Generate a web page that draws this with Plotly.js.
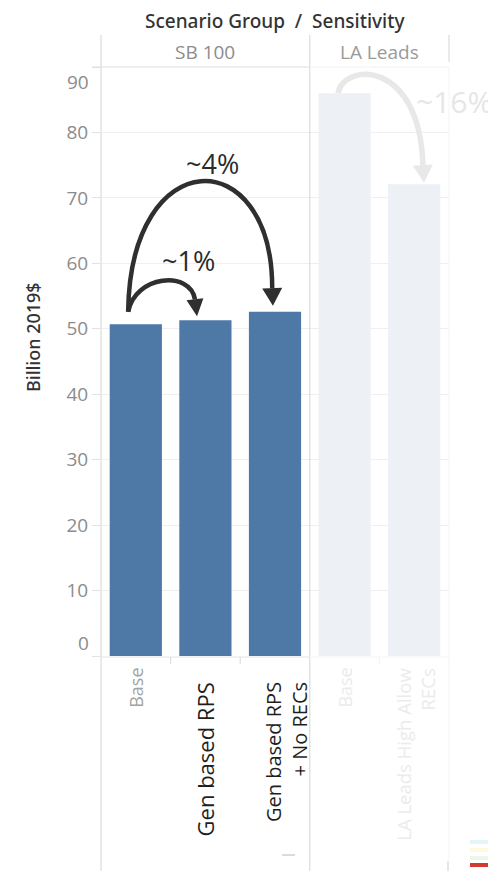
<!DOCTYPE html>
<html>
<head>
<meta charset="utf-8">
<script src="https://cdn.plot.ly/plotly-3.0.1.min.js"></script>
<style>
  html, body { margin: 0; padding: 0; background: #fff; }
  #chart { width: 488px; height: 871px; }
</style>
</head>
<body>
<div id="chart"></div>
<script>
// ---- data ----
const groups = ['SB 100', 'SB 100', 'SB 100', 'LA Leads', 'LA Leads'];
const sensitivities = ['Base', 'Gen based RPS', 'Gen based RPS<br>+ No RECs', 'Base', 'LA Leads High Allow<br>RECs'];
const costs = [50.7, 51.3, 52.6, 86.0, 72.1];          // Billion 2019$
const yTicks = [0, 10, 20, 30, 40, 50, 60, 70, 80, 90];
const changeLabels = ['~1%', '~4%', '~16%'];
const groupHeaders = ['SB 100', 'LA Leads'];
const legendSwatches = ['#e4f4f9', '#fcfadf', '#eef6e9', '#d13b31'];
const focusGroup = 'SB 100';

// ---- layout geometry ----
const W = 488, H = 871;
const M = { l: 101, r: 39, t: 67, b: 215 };
const plotW = W - M.l - M.r, plotH = H - M.t - M.b;
const xRange = [-0.5, sensitivities.length - 0.5];
const yRange = [0, 90];
const PX = plotW / (xRange[1] - xRange[0]);
const PY = plotH / (yRange[1] - yRange[0]);
const FONT = '"Open Sans", "Noto Sans", "DejaVu Sans", sans-serif';
const HEAD_FONT = '"Noto Sans", "Open Sans", "DejaVu Sans", sans-serif';

const paperX = px => (px - M.l) / plotW;
const paperY = py => (H - M.b - py) / plotH;
const idxToPaper = i => (i - xRange[0]) / (xRange[1] - xRange[0]);

const BLUE = '#4e79a7';
const FADED_BAR = '#edf0f5';
const FADED_TEXT = '#e6e6e6';

const xIdx = sensitivities.map((_, i) => i);
const inFocus = groups.map(g => g === focusGroup);

// ---- bars ----
const bars = {
  type: 'bar',
  x: xIdx,
  y: costs,
  width: 0.75,
  marker: { color: inFocus.map(f => f ? BLUE : FADED_BAR), line: { width: 0 } },
  hoverinfo: 'skip'
};

// ---- curved change arrows (data space) ----
function curvedArrow(p0, p1, p2, p3, tip, halfW, color, width) {
  const path = `M${p0[0]},${p0[1]} C${p1[0]},${p1[1]} ${p2[0]},${p2[1]} ${p3[0]},${p3[1]}`;
  const dx = (tip[0] - p3[0]) * PX, dy = (tip[1] - p3[1]) * PY;
  const len = Math.hypot(dx, dy);
  const nx = -dy / len, ny = dx / len;
  const a = [p3[0] + nx * halfW / PX, p3[1] + ny * halfW / PY];
  const b = [p3[0] - nx * halfW / PX, p3[1] - ny * halfW / PY];
  const head = `M${a[0]},${a[1]} L${tip[0]},${tip[1]} L${b[0]},${b[1]} Z`;
  return [
    { type: 'path', xref: 'x', yref: 'y', path: path, line: { color: color, width: width }, fillcolor: 'rgba(0,0,0,0)' },
    { type: 'path', xref: 'x', yref: 'y', path: head, line: { width: 0 }, fillcolor: color }
  ];
}

const DARK = '#2f2f2f';
const shapes = [];
// Base -> Gen based RPS
shapes.push(...curvedArrow([-0.11, costs[0] + 1.9], [-0.01, 58.2], [0.78, 59.0], [0.85, costs[1] + 3.2],
  [0.88, costs[1] + 0.6], 8.5, DARK, 4.5));
// Base -> Gen based RPS + No RECs
shapes.push(...curvedArrow([-0.11, costs[0] + 1.9], [-0.08, 78.6], [1.96, 78.6], [1.96, costs[2] + 3.6],
  [1.97, costs[2] + 0.9], 10, DARK, 4.5));
// LA Leads Base -> High Allow RECs
shapes.push(...curvedArrow([2.905, costs[3]], [3.0, 90.8], [4.08, 91.1], [4.125, costs[4] + 2.9],
  [4.14, costs[4] + 0.2], 10, '#e8e8e8', 5.5));

// ---- frame lines ----
function seg(x0, y0, x1, y1, color, w) {
  shapes.push({ type: 'line', xref: 'paper', yref: 'paper', x0: x0, y0: y0, x1: x1, y1: y1,
    line: { color: color, width: w || 1 } });
}
const divX = idxToPaper(groups.lastIndexOf(focusGroup) + 0.5);
seg(0, paperY(35), 0, paperY(871), '#d4d4d4');                 // left axis
seg(divX, paperY(35), divX, paperY(871), '#d4d4d4');           // group divider
seg(1, paperY(35), 1, paperY(62), '#d4d4d4');                  // right header edge
seg(1, paperY(67), 1, paperY(860), '#f4f4f4');
seg(paperX(448), paperY(861), paperX(448), paperY(871), '#cfcfcf');
seg(paperX(92), 1, divX, 1, '#dcdcdc');                        // header underline
seg(divX, 1, 1, 1, '#f2f2f2');
seg(0, paperY(657), divX, paperY(657), '#e4e4e4');             // axis base
seg(divX, paperY(657), 1, paperY(657), '#f4f4f4');
for (let i = 0; i < sensitivities.length - 1; i++) {
  if (groups[i] !== groups[i + 1]) continue;
  const xp = idxToPaper(i + 0.5);
  seg(xp, paperY(657), xp, paperY(664), inFocus[i] ? '#d8d8d8' : '#f2f2f2');
}
seg(paperX(282), paperY(855), paperX(295), paperY(855), '#b8b8b8');

// legend swatches at the lower right
const swY = [840, 848, 856, 863];
legendSwatches.forEach((c, i) => {
  shapes.push({ type: 'rect', xref: 'paper', yref: 'paper', x0: paperX(470), x1: paperX(490),
    y0: paperY(swY[i] + 4), y1: paperY(swY[i]), fillcolor: c, line: { width: 0 } });
});

// ---- annotations ----
const annotations = [];
annotations.push({ text: 'Scenario Group  /  Sensitivity', xref: 'paper', yref: 'paper',
  x: paperX(275), y: paperY(21), xanchor: 'center', yanchor: 'middle', showarrow: false,
  font: { family: HEAD_FONT, size: 19, color: '#333', weight: 500 } });

groupHeaders.forEach(g => {
  const idx = groups.map((v, i) => v === g ? i : -1).filter(i => i >= 0);
  const mid = (idx[0] + idx[idx.length - 1]) / 2;
  annotations.push({ text: g, xref: 'paper', yref: 'paper', x: idxToPaper(mid), y: paperY(52),
    xanchor: 'center', yanchor: 'middle', showarrow: false,
    font: { family: FONT, size: 19, color: g === focusGroup ? '#8c8c8c' : '#9a9a9a' } });
});

annotations.push({ text: 'Billion 2019$', xref: 'paper', yref: 'paper', x: paperX(33), y: paperY(337),
  xanchor: 'center', yanchor: 'middle', textangle: -90, showarrow: false,
  font: { family: HEAD_FONT, size: 18, color: '#333', weight: 500 } });

// end tick labels sit inside the axis span
[[0, 13], [yTicks.length - 1, -15]].forEach(([k, shift]) => {
  annotations.push({ text: String(yTicks[k]), xref: 'paper', yref: 'y', x: paperX(91), y: yTicks[k],
    xanchor: 'right', yanchor: 'middle', yshift: shift, showarrow: false,
    font: { family: FONT, size: 19, color: '#8c8c8c' } });
});

// category labels under the bars
const labelStyle = [
  { size: 18, color: '#a3a3a3', top: 666, dx: 0 },
  { size: 22, color: '#1e1e1e', top: 680, dx: 0 },
  { size: 20, color: '#1e1e1e', top: 680, dx: 11 },
  { size: 18, color: '#ebebeb', top: 666, dx: 0 },
  { size: 18.5, color: '#ebebeb', top: 666, dx: 1 }
];
sensitivities.forEach((s, i) => {
  const st = labelStyle[i];
  annotations.push({ text: s, xref: 'x', yref: 'paper', x: xIdx[i], y: paperY(st.top),
    xanchor: 'center', yanchor: 'top', textangle: -90, align: 'right', xshift: st.dx,
    showarrow: false, font: { family: FONT, size: st.size, color: st.color } });
});

// change labels
annotations.push({ text: changeLabels[0], xref: 'x', yref: 'y', x: 0.76, y: 60.5,
  xanchor: 'center', yanchor: 'middle', showarrow: false, font: { family: FONT, size: 27, color: '#2b2b2b' } });
annotations.push({ text: changeLabels[1], xref: 'x', yref: 'y', x: 1.095, y: 75.3,
  xanchor: 'center', yanchor: 'middle', showarrow: false, font: { family: FONT, size: 27, color: '#2b2b2b' } });
annotations.push({ text: changeLabels[2], xref: 'x', yref: 'y', x: 4.0, y: 84.8,
  xanchor: 'left', yanchor: 'middle', showarrow: false, font: { family: FONT, size: 30, color: FADED_TEXT } });

const layout = {
  width: W, height: H,
  margin: M,
  paper_bgcolor: '#fff', plot_bgcolor: '#fff',
  showlegend: false,
  bargap: 0.25,
  font: { family: FONT },
  xaxis: { range: xRange, showticklabels: false, showgrid: false, zeroline: false, ticks: '', fixedrange: true },
  yaxis: {
    range: yRange, tickvals: yTicks,
    ticktext: yTicks.map((v, i) => (i === 0 || i === yTicks.length - 1) ? '' : String(v)),
    ticks: 'outside', ticklen: 8, tickcolor: '#e2e2e2',
    tickfont: { family: FONT, size: 19, color: '#8c8c8c' },
    showgrid: true, gridcolor: '#efefef', zeroline: false, showline: false, fixedrange: true
  },
  shapes: shapes,
  annotations: annotations
};

Plotly.newPlot('chart', [bars], layout, { displayModeBar: false, staticPlot: true });
</script>
</body>
</html>
